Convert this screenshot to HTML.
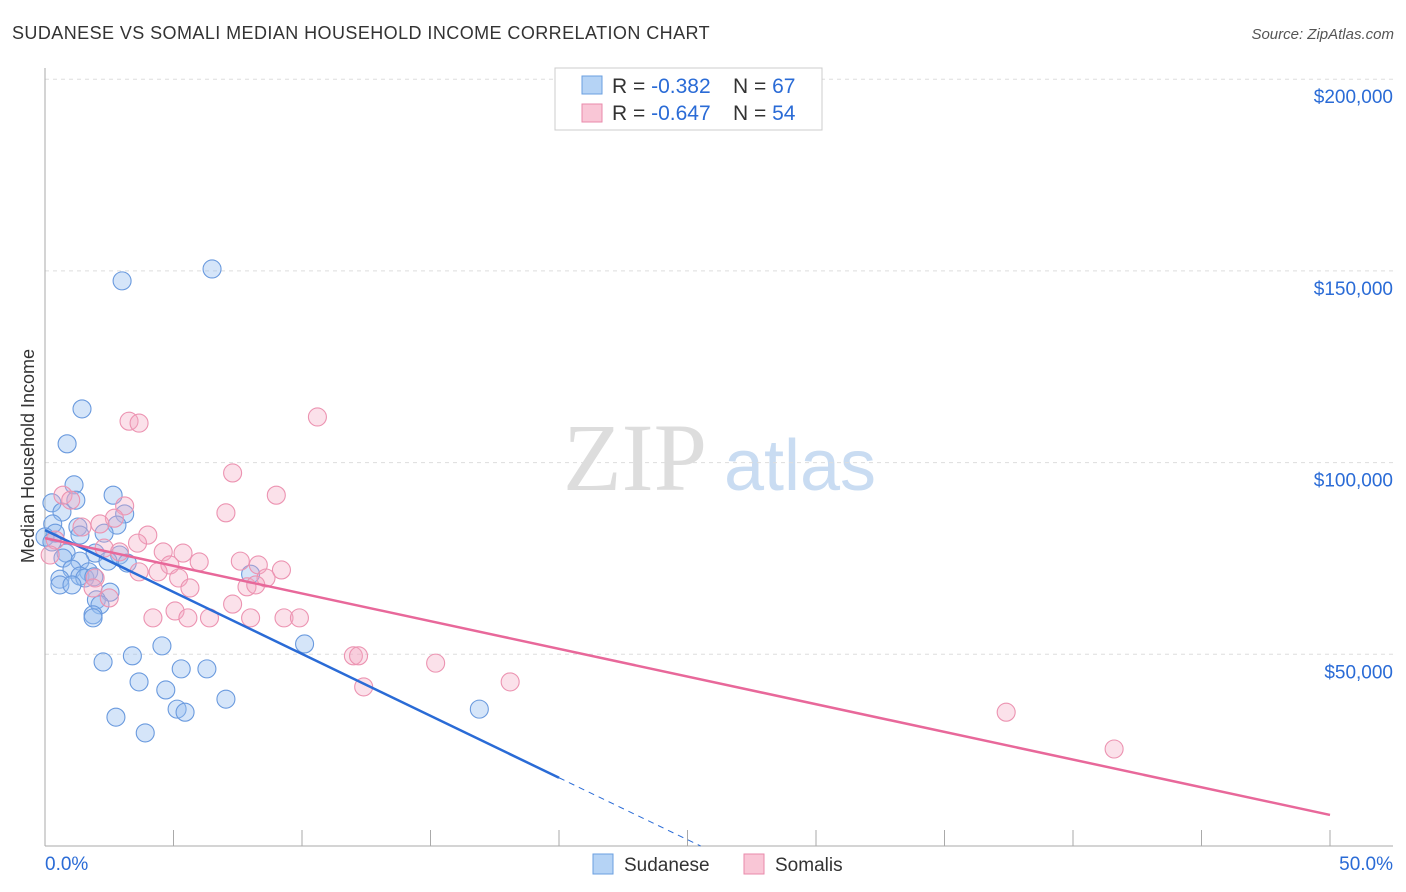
<!DOCTYPE html><html><head><meta charset="utf-8"><style>
body{margin:0;background:#fff;font-family:"Liberation Sans",sans-serif}
</style></head><body>
<svg id="c" width="1406" height="892" style="display:block">
<text x="12" y="39" font-size="18" fill="#333" letter-spacing="0.4" textLength="698">SUDANESE VS SOMALI MEDIAN HOUSEHOLD INCOME CORRELATION CHART</text>
<text x="1394" y="39" font-size="15" fill="#555" font-style="italic" text-anchor="end">Source: ZipAtlas.com</text>
<text x="34" y="456" font-size="18" fill="#333" transform="rotate(-90 34 456)" text-anchor="middle">Median Household Income</text>
<text x="635" y="490" font-size="96" fill="#ddd" font-family="Liberation Serif,serif" text-anchor="middle">ZIP</text>
<text x="800" y="490" font-size="72" fill="#c9dcf2" text-anchor="middle">atlas</text>
<g id="grid"></g><g id="pts"></g><g id="lines"></g>
<g>
<rect x="555" y="68" width="267" height="62" fill="#fff" stroke="#ccc"/>
<rect x="582" y="76" width="20" height="18" fill="#b5d3f5" stroke="#6a9fe0"/>
<rect x="582" y="104" width="20" height="18" fill="#f9c6d6" stroke="#e98aab"/>
<text x="612" y="93" font-size="21" fill="#333">R = <tspan fill="#2a6bd6">-0.382</tspan><tspan x="733">N = </tspan><tspan fill="#2a6bd6">67</tspan></text>
<text x="612" y="120" font-size="21" fill="#333">R = <tspan fill="#2a6bd6">-0.647</tspan><tspan x="733">N = </tspan><tspan fill="#2a6bd6">54</tspan></text>
</g>
<g>
<rect x="593" y="854" width="20" height="20" fill="#b5d3f5" stroke="#6a9fe0"/>
<text x="624" y="871" font-size="19" fill="#333">Sudanese</text>
<rect x="744" y="854" width="20" height="20" fill="#f9c6d6" stroke="#e98aab"/>
<text x="775" y="871" font-size="19" fill="#333">Somalis</text>
</g>
</svg>
<script>
const yTicks=[50,100,150,200];
const yTickLabels=["$50,000","$100,000","$150,000","$200,000"];
const blueX=[6.5,3.0,1.44,0.86,1.13,2.65,1.2,0.27,0.66,3.1,0.3,1.28,2.8,0.4,0,1.36,0.27,2.3,0.82,1.95,2.9,0.7,1.36,3.2,1.05,2.45,1.7,1.36,1.55,1.9,0.58,8.0,0.58,1.05,2.53,2.0,2.14,1.87,1.87,10.1,4.55,3.4,2.26,5.3,6.3,3.66,4.7,7.04,5.14,5.45,16.9,2.76,3.9];
const blueY=[150.5,147.4,114,104.9,94.2,91.5,90.2,89.5,87.1,86.6,84.0,83.2,83.7,81.6,80.6,81.1,79.3,81.6,76.4,76.4,75.9,75.1,74.3,73.8,72.2,74.3,71.5,70.4,69.9,70.2,69.6,70.9,68.1,68.1,66.2,64.2,62.9,60.3,59.5,52.7,52.2,49.6,48.0,46.2,46.2,42.8,40.7,38.3,35.7,34.9,35.7,33.6,29.5];
const pinkX=[10.6,3.27,3.66,7.3,9.0,0.7,1.0,3.1,7.04,2.7,2.14,1.44,4.0,0.4,3.6,2.3,2.9,4.6,5.37,6.0,7.6,8.3,4.86,4.4,3.66,9.2,8.6,5.2,1.95,7.86,5.64,1.87,8.2,7.3,2.5,5.06,4.2,6.4,5.56,8.0,9.3,9.9,12.0,12.2,15.2,18.1,12.4,37.4,41.6,0.2];
const pinkY=[111.9,110.8,110.3,97.3,91.5,91.5,90.2,88.7,86.9,85.5,84.0,83.2,81.1,79.8,79.0,77.7,76.7,76.7,76.4,74.1,74.3,73.3,73.3,71.5,71.5,72.0,69.9,69.9,69.9,67.6,67.3,67.3,68.1,63.1,64.7,61.3,59.5,59.5,59.5,59.5,59.5,59.5,49.6,49.6,47.7,42.8,41.5,34.9,25.3,75.9];
const blueTrend=[82.4,-3.23];
const pinkTrend=[80.3,-1.444];
const X=v=>45+v*25.7, Y=v=>846-v*3.834;
const NS="http://www.w3.org/2000/svg";
function mk(t,a,p){const e=document.createElementNS(NS,t);for(const k in a)e.setAttribute(k,a[k]);p.appendChild(e);return e;}
const g=document.getElementById('grid');
yTicks.forEach((t,i)=>{
const l=mk('line',{x1:45,x2:1393,y1:Y(t),y2:Y(t),stroke:'#ddd','stroke-dasharray':'4 4'},g);


const tx=mk('text',{x:1393,y:Y(t)+24,'font-size':19,fill:'#2a6bd6','text-anchor':'end'},g);tx.textContent=yTickLabels[i];


});
mk('line',{x1:45,x2:45,y1:68,y2:846,stroke:'#aaa'},g);
mk('line',{x1:45,x2:1393,y1:846,y2:846,stroke:'#aaa'},g);
for(let i=1;i<=10;i++){const t=mk('line',{x1:X(i*5),x2:X(i*5),y1:830,y2:846,stroke:'#aaa'},g);

}
let a=mk('text',{x:45,y:870,'font-size':19,fill:'#2a6bd6'},g);a.textContent='0.0%';

a=mk('text',{x:1393,y:870,'font-size':19,fill:'#2a6bd6','text-anchor':'end'},g);a.textContent='50.0%';

const p=document.getElementById('pts');
blueX.forEach((v,i)=>{const c=mk('circle',{cx:X(v),cy:Y(blueY[i]),r:9,fill:'rgba(150,190,240,0.4)',stroke:'#6a9ade','stroke-width':1.1},p);

});
pinkX.forEach((v,i)=>{const c=mk('circle',{cx:X(v),cy:Y(pinkY[i]),r:9,fill:'rgba(244,170,195,0.35)',stroke:'#ec93b1','stroke-width':1.1},p);

});
const L=document.getElementById('lines');
const be=20, bz=-blueTrend[0]/blueTrend[1];
let l=mk('line',{x1:X(0),y1:Y(blueTrend[0]),x2:X(be),y2:Y(blueTrend[0]+blueTrend[1]*be),stroke:'#2a6bd6','stroke-width':2.5},L);

l=mk('line',{x1:X(be),y1:Y(blueTrend[0]+blueTrend[1]*be),x2:X(bz),y2:Y(0),stroke:'#2a6bd6','stroke-width':1,'stroke-dasharray':'6 5'},L);

l=mk('line',{x1:X(0),y1:Y(pinkTrend[0]),x2:X(50),y2:Y(pinkTrend[0]+pinkTrend[1]*50),stroke:'#e8689a','stroke-width':2.5},L);

</script>
</body></html>
